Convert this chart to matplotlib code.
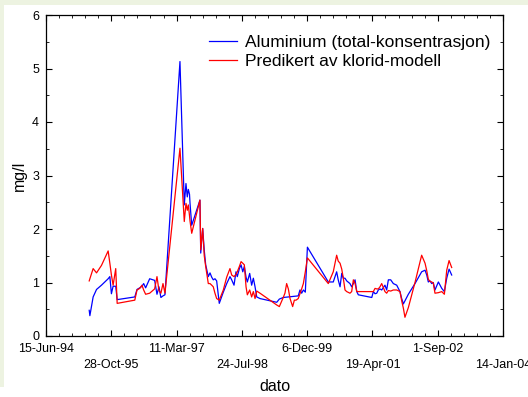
import matplotlib
matplotlib.use("Agg")
import matplotlib.pyplot as plt
from matplotlib.patches import Rectangle
import pandas as pd

plt.rcParams["font.family"] = ["Liberation Sans", "DejaVu Sans"]

# Aluminium, total concentration (mg/l)
al_dates = [
    "1995-05-12", "1995-05-17", "1995-06-11", "1995-07-07", "1995-08-14", "1995-10-04",
    "1995-10-17", "1995-10-29", "1995-11-11", "1995-12-01", "1995-12-12", "1996-04-25",
    "1996-05-12", "1996-06-02", "1996-06-19", "1996-07-02", "1996-07-17", "1996-08-17",
    "1996-09-24", "1996-10-12", "1996-10-27", "1996-11-11", "1996-11-27", "1996-12-12",
    "1997-04-06", "1997-05-09", "1997-05-22", "1997-06-01", "1997-06-09", "1997-06-18",
    "1997-06-22", "1997-07-05", "1997-09-06", "1997-09-12", "1997-09-27", "1997-10-09",
    "1997-10-20", "1997-11-09", "1997-11-22", "1997-12-05", "1997-12-17", "1997-12-30",
    "1998-01-12", "1998-02-01", "1998-03-04", "1998-03-30", "1998-04-24", "1998-05-07",
    "1998-05-25", "1998-06-09", "1998-06-19", "1998-07-05", "1998-07-18", "1998-07-31",
    "1998-08-12", "1998-08-25", "1998-09-04", "1998-09-22", "1998-10-07", "1998-10-20",
    "1998-11-02", "1998-11-15", "1998-12-10", "1999-04-17", "1999-05-07", "1999-06-06",
    "1999-09-29", "1999-10-12", "1999-10-25", "1999-11-07", "1999-11-22", "1999-12-08",
    "2000-05-16", "2000-06-23", "2000-07-19", "2000-07-31", "2000-08-14", "2000-08-27",
    "2000-09-08", "2000-09-21", "2000-10-04", "2000-10-29", "2000-11-11", "2000-11-24",
    "2000-12-07", "2000-12-20", "2001-01-01", "2001-04-14", "2001-04-26", "2001-05-09",
    "2001-05-22", "2001-06-03", "2001-06-16", "2001-06-29", "2001-07-24", "2001-08-06",
    "2001-08-19", "2001-09-06", "2001-09-26", "2001-10-22", "2001-11-16", "2001-11-29",
    "2001-12-12", "2002-01-19", "2002-03-11", "2002-05-01", "2002-05-27", "2002-06-09",
    "2002-06-21", "2002-07-04", "2002-07-17", "2002-07-29", "2002-08-11", "2002-09-06",
    "2002-10-02", "2002-10-22", "2002-11-09", "2002-11-27", "2002-12-17",
]
al_values = [
    0.48, 0.38, 0.73, 0.87, 0.95, 1.07,
    1.11, 0.79, 0.93, 0.93, 0.68, 0.73,
    0.87, 0.90, 0.93, 0.98, 0.90, 1.07,
    1.04, 0.78, 0.92, 0.72, 0.75, 0.77,
    5.13, 2.45, 2.85, 2.60, 2.74, 2.65,
    2.48, 2.07, 2.54, 1.55, 2.01, 1.60,
    1.33, 1.11, 1.18, 1.10, 1.05, 1.07,
    1.03, 0.61, 0.82, 0.98, 1.11, 1.05,
    0.95, 1.20, 1.11, 1.26, 1.33, 1.20,
    1.30, 1.10, 1.01, 1.17, 0.95, 1.08,
    0.92, 0.73, 0.70, 0.63, 0.69, 0.72,
    0.75, 0.86, 0.80, 0.86, 0.82, 1.66,
    1.01, 1.01, 1.20, 1.05, 0.92, 1.17,
    1.08, 1.08, 1.03, 0.98, 0.92, 0.98,
    1.05, 0.83, 0.77, 0.72, 0.83, 0.79,
    0.80, 0.86, 0.88, 0.86, 0.95, 0.86,
    1.05, 1.05, 0.98, 0.95, 0.83, 0.70,
    0.60, 0.78, 0.98, 1.20, 1.23, 1.14,
    1.01, 1.03, 0.98, 1.00, 0.86, 1.01,
    0.89, 0.83, 1.08, 1.25, 1.14,
]

# Predicted by the chloride model (mg/l)
pred_dates = [
    "1995-05-12", "1995-05-17", "1995-06-11", "1995-07-07", "1995-08-14", "1995-10-04",
    "1995-10-17", "1995-10-29", "1995-11-11", "1995-12-01", "1995-12-12", "1996-04-25",
    "1996-05-12", "1996-06-02", "1996-06-19", "1996-07-02", "1996-07-17", "1996-08-17",
    "1996-09-24", "1996-10-12", "1996-10-27", "1996-11-11", "1996-11-27", "1996-12-12",
    "1997-04-06", "1997-05-09", "1997-05-22", "1997-06-01", "1997-06-09", "1997-06-18",
    "1997-06-22", "1997-07-05", "1997-09-06", "1997-09-12", "1997-09-27", "1997-10-09",
    "1997-10-20", "1997-11-09", "1997-11-22", "1997-12-05", "1997-12-17", "1997-12-30",
    "1998-01-12", "1998-02-01", "1998-03-04", "1998-03-30", "1998-04-24", "1998-05-07",
    "1998-05-25", "1998-06-09", "1998-06-19", "1998-07-05", "1998-07-18", "1998-07-31",
    "1998-08-12", "1998-08-25", "1998-09-04", "1998-09-22", "1998-10-07", "1998-10-20",
    "1998-11-02", "1998-11-15", "1998-12-10", "1999-04-17", "1999-05-07", "1999-06-06",
    "1999-06-19", "1999-07-02", "1999-07-15", "1999-07-28", "1999-08-17", "1999-08-30",
    "1999-09-12", "1999-09-29", "1999-10-12", "1999-10-25", "1999-11-07", "1999-11-22",
    "1999-12-08", "2000-05-16", "2000-06-23", "2000-07-19", "2000-07-31", "2000-08-14",
    "2000-08-27", "2000-09-08", "2000-09-21", "2000-10-04", "2000-10-29", "2000-11-11",
    "2000-11-24", "2000-12-07", "2000-12-20", "2001-01-01", "2001-04-14", "2001-04-26",
    "2001-05-09", "2001-05-22", "2001-06-03", "2001-06-16", "2001-06-29", "2001-07-24",
    "2001-08-06", "2001-08-19", "2001-09-06", "2001-09-26", "2001-10-22", "2001-11-16",
    "2001-11-29", "2001-12-12", "2001-12-24", "2002-01-19", "2002-03-11", "2002-05-01",
    "2002-05-27", "2002-06-09", "2002-06-21", "2002-07-04", "2002-07-17", "2002-07-29",
    "2002-08-11", "2002-09-06", "2002-10-02", "2002-10-22", "2002-11-09", "2002-11-27",
    "2002-12-17",
]
pred_values = [
    1.03, 1.07, 1.26, 1.18, 1.32, 1.59,
    1.36, 1.14, 0.95, 1.26, 0.61, 0.67,
    0.86, 0.89, 0.95, 0.86, 0.78, 0.80,
    0.88, 1.11, 0.85, 0.80, 0.98, 0.80,
    3.51, 2.14, 2.48, 2.35, 2.45, 2.25,
    2.15, 1.92, 2.54, 1.61, 2.01, 1.50,
    1.30, 0.98, 0.98, 0.95, 0.92, 0.80,
    0.70, 0.67, 0.86, 1.10, 1.26, 1.14,
    1.11, 1.15, 1.20, 1.30, 1.39, 1.36,
    1.33, 0.92, 0.77, 0.86, 0.73, 0.83,
    0.70, 0.84, 0.80, 0.58, 0.55, 0.72,
    0.80, 0.98, 0.88, 0.70, 0.55, 0.67,
    0.67, 0.70, 0.79, 0.88, 0.98, 1.20,
    1.46, 0.98, 1.20, 1.51, 1.40, 1.36,
    1.25, 1.08, 0.86, 0.83, 0.80, 0.83,
    1.05, 0.98, 0.83, 0.83, 0.83, 0.83,
    0.89, 0.88, 0.88, 0.92, 0.98, 0.83,
    0.80, 0.85, 0.84, 0.86, 0.86, 0.83,
    0.66, 0.52, 0.35, 0.53, 1.00, 1.51,
    1.36, 1.22, 1.06, 1.02, 1.01, 0.99,
    0.80, 0.81, 0.83, 0.78, 1.23, 1.41,
    1.28,
]

series_labels = ["Aluminium (total-konsentrasjon)", "Predikert av klorid-modell"]

x_start = pd.Timestamp("1994-06-15")
major_ticks = pd.date_range(x_start, periods=8, freq="500D")
minor_ticks = pd.date_range(x_start, periods=36, freq="100D")

fig = plt.figure(figsize=(5.28, 3.97), dpi=100, facecolor="white")

# light green frame strips (top and left)
green = "#edf3e1"
fig.patches.append(Rectangle((0, 1 - 5 / 397), 1, 5 / 397, transform=fig.transFigure,
                             facecolor=green, edgecolor="none", zorder=0))
fig.patches.append(Rectangle((0, 10 / 397), 4 / 528, 1, transform=fig.transFigure,
                             facecolor=green, edgecolor="none", zorder=0))

ax = fig.add_axes([46 / 528, 61 / 397, 457 / 528, 321 / 397])

ax.plot(pd.to_datetime(al_dates), al_values, color="#0000ff", lw=0.9, label=series_labels[0])
ax.plot(pd.to_datetime(pred_dates), pred_values, color="#ff0000", lw=0.9, label=series_labels[1])

ax.set_xlim(major_ticks[0], major_ticks[-1])
ax.set_ylim(0, 6)

ax.set_xticks(major_ticks)
ax.set_xticks(minor_ticks, minor=True)
tick_labels = []
for i, d in enumerate(major_ticks):
    lab = f"{d.day}-{d.strftime('%b-%y')}"
    tick_labels.append(lab if i % 2 == 0 else "\n" + lab)
ax.set_xticklabels(tick_labels, linespacing=1.4)

ax.set_yticks(range(0, 7))
ax.set_yticks([v + 0.5 for v in range(6)], minor=True)

ax.tick_params(which="both", direction="in", top=True, right=True, labelsize=9, color="black")
ax.tick_params(which="major", length=4, width=0.8, pad=4)
ax.tick_params(which="minor", length=2.5, width=0.6)
ax.tick_params(axis="x", pad=5)
ax.tick_params(axis="y", pad=5)

for s in ax.spines.values():
    s.set_linewidth(0.9)

ax.set_xlabel("dato", fontsize=11.5, labelpad=6)
ax.set_ylabel("mg/l", fontsize=11.5, labelpad=4)

ax.legend(loc="upper left", bbox_to_anchor=(0.345, 0.955), frameon=False, fontsize=12.5,
          handlelength=1.6, handletextpad=0.5, labelspacing=0.25, borderaxespad=0, borderpad=0.3)

fig.savefig("out.png", dpi=100, facecolor=fig.get_facecolor())
